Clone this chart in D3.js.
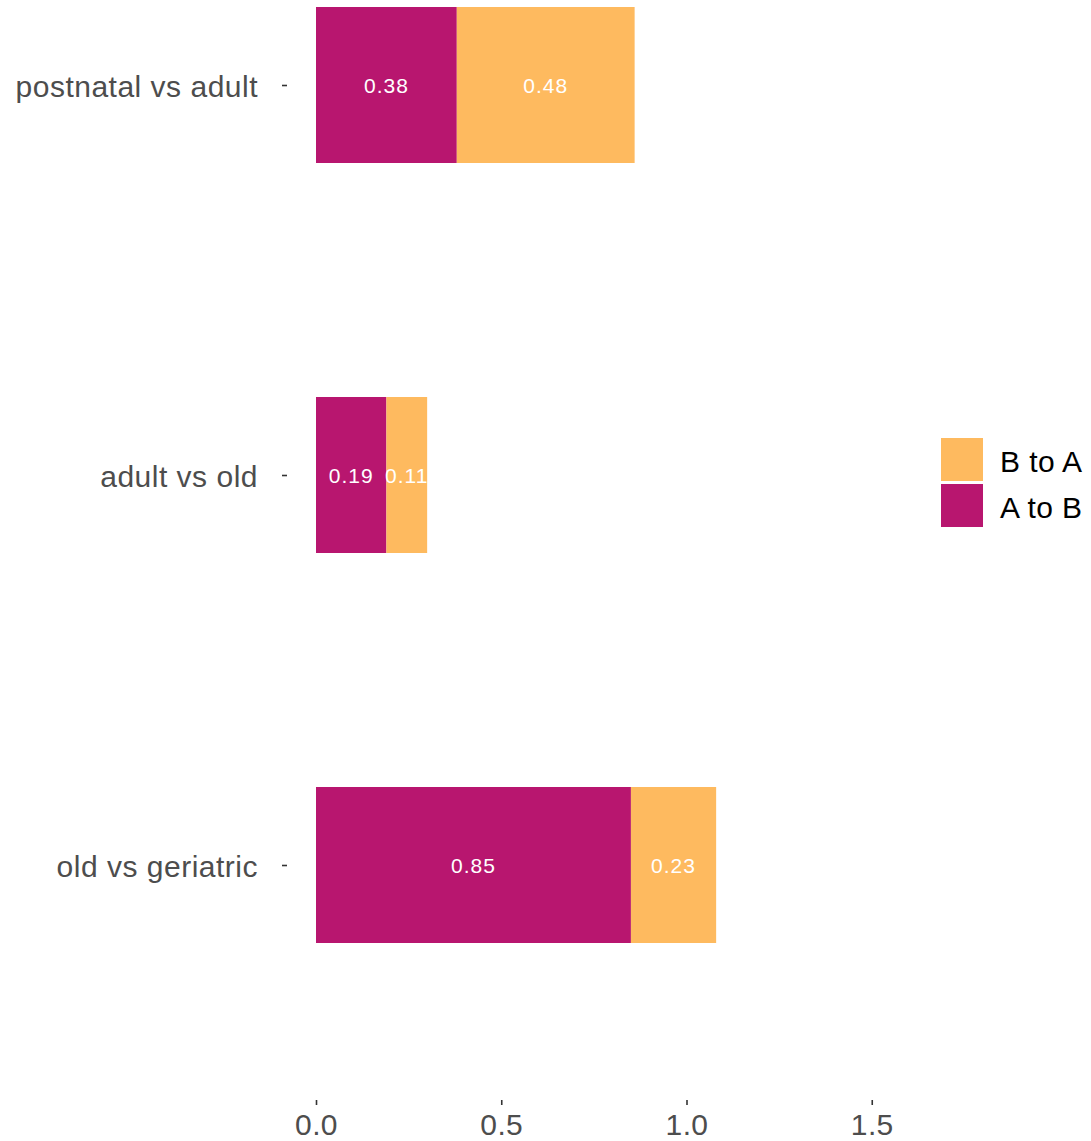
<!DOCTYPE html>
<html>
<head>
<meta charset="utf-8">
<script src="https://cdn.jsdelivr.net/npm/d3@7"></script>
<style>
  html, body { margin: 0; padding: 0; background: #fff; }
  svg { display: block; font-family: "Liberation Sans", Arial, Helvetica, sans-serif; }
</style>
</head>
<body>
<svg id="chart" width="1091" height="1141"></svg>
<script>
// Comparisons (top to bottom) and the two stacked transition shares
const comparisons = ["postnatal vs adult", "adult vs old", "old vs geriatric"];
const aToB = [0.38, 0.19, 0.85];
const bToA = [0.48, 0.11, 0.23];
const seriesNames = ["A to B", "B to A"];
const seriesColors = ["#B8166F", "#FEBA5F"];
const xTicks = [0.0, 0.5, 1.0, 1.5];
const legendOrder = ["B to A", "A to B"];

const svg = d3.select("#chart");

// Scales
const x = d3.scaleLinear().domain([0, 1]).range([316, 686.5]);
const y = d3.scalePoint().domain(comparisons).range([85, 865]);
const barH = y.step() * 0.4;
const color = d3.scaleOrdinal().domain(seriesNames).range(seriesColors);

// Stack the two series per comparison
const rows = comparisons.map((c, i) => ({ comparison: c, "A to B": aToB[i], "B to A": bToA[i] }));
const stacked = d3.stack().keys(seriesNames)(rows);

const layers = svg.append("g").selectAll("g")
  .data(stacked)
  .join("g")
  .attr("fill", d => color(d.key));

layers.selectAll("rect")
  .data(d => d)
  .join("rect")
  .attr("x", d => x(d[0]))
  .attr("width", d => x(d[1]) - x(d[0]))
  .attr("y", d => y(d.data.comparison) - barH / 2)
  .attr("height", barH);

// Value labels centred in each segment
layers.selectAll("text")
  .data(d => d.map(s => ({ s, key: d.key })))
  .join("text")
  .attr("x", d => (x(d.s[0]) + x(d.s[1])) / 2)
  .attr("y", d => y(d.s.data.comparison) + 1)
  .attr("dy", "0.35em")
  .attr("text-anchor", "middle")
  .attr("fill", "#fff")
  .attr("font-size", 21)
  .attr("letter-spacing", "1px")
  .text(d => d3.format(".2f")(d.s.data[d.key]));

// X axis
const xAxis = d3.axisBottom(x)
  .tickValues(xTicks)
  .tickFormat(d3.format(".1f"))
  .tickSize(5)
  .tickPadding(9);
const gx = svg.append("g").attr("transform", "translate(0,1100)").call(xAxis);
gx.select(".domain").remove();
gx.selectAll(".tick line").attr("stroke", "#333").attr("stroke-width", 1.6);
gx.selectAll(".tick text").attr("fill", "#4D4D4D").attr("font-size", 30)
  .attr("letter-spacing", "0.4px")
  .attr("font-family", "'Liberation Sans', Arial, sans-serif");

// Y axis
const yAxis = d3.axisLeft(y).tickSize(5).tickPadding(24);
const gy = svg.append("g").attr("transform", "translate(287,0)").call(yAxis);
gy.select(".domain").remove();
gy.selectAll(".tick line").attr("stroke", "#333").attr("stroke-width", 1.6);
gy.selectAll(".tick text").attr("fill", "#4D4D4D").attr("font-size", 30)
  .attr("letter-spacing", "0.5px")
  .attr("y", 2)
  .attr("font-family", "'Liberation Sans', Arial, sans-serif");

// Legend
const legend = svg.append("g").attr("transform", "translate(941,438)");
const item = legend.selectAll("g")
  .data(legendOrder)
  .join("g")
  .attr("transform", (d, i) => `translate(0,${i * 46})`);
item.append("rect")
  .attr("width", 42).attr("height", 43)
  .attr("fill", d => color(d));
item.append("text")
  .attr("x", 59).attr("y", 23).attr("dy", "0.35em")
  .attr("font-size", 30).attr("letter-spacing", "0.4px").attr("fill", "#000")
  .text(d => d);
</script>
</body>
</html>
